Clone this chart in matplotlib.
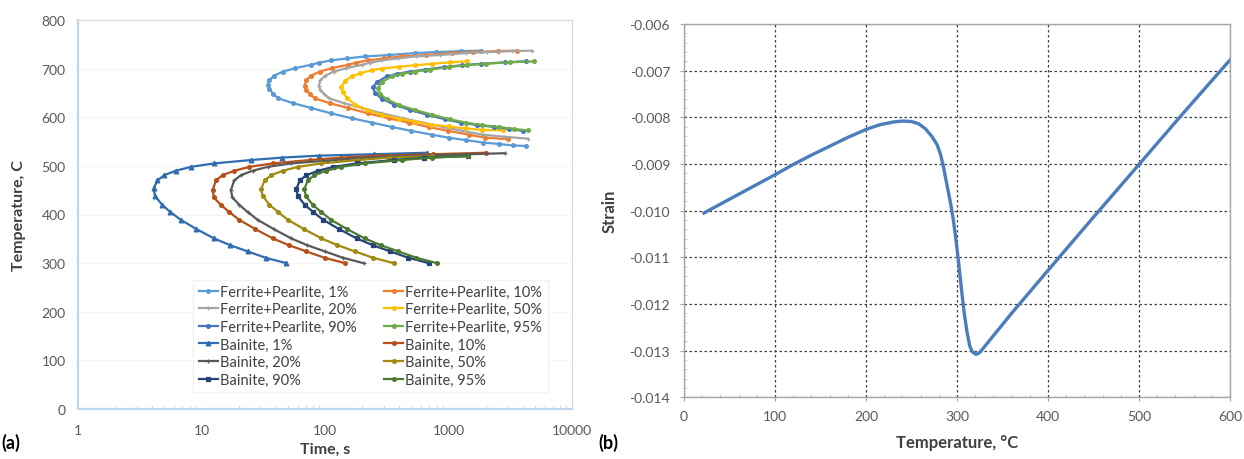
import matplotlib
matplotlib.use("Agg")
import matplotlib.pyplot as plt
from matplotlib.ticker import FixedLocator, MultipleLocator, FuncFormatter, NullFormatter

plt.rcParams['font.family'] = ['Lato', 'DejaVu Sans']

# ---------------- Panel (a): TTT diagram ----------------
fp1_T = [737, 736, 734, 732, 728, 725, 721, 717, 712, 708, 701, 694, 685, 676, 667, 658, 648, 639, 629, 619, 608, 598, 589, 580, 572, 564, 558, 553, 548, 545, 542, 541]
fp1_t = [1820, 1260, 794, 537, 331, 209, 151, 112, 89, 77.6, 57.5, 45.7, 38.5, 35.5, 34.4, 35.5, 38, 41.7, 55, 77.6, 112, 164, 240, 347, 501, 741, 1000, 1380, 1905, 2570, 3310, 4250]

fp10_T = [737, 736, 734, 732, 728, 725, 721, 717, 712, 708, 701, 694, 685, 676, 665, 656, 648, 639, 629, 619, 608, 598, 589, 580, 572, 564, 558, 555]
fp10_t = [3614, 2500, 1578, 1067, 658, 415, 301, 223, 177, 154, 114, 90.8, 76.4, 70.5, 68.4, 70.5, 75.5, 82.8, 109, 154, 223, 327, 476, 689, 995, 1472, 1986, 3006]

fp20_T = [737, 736, 734, 732, 728, 725, 721, 717, 712, 708, 701, 694, 685, 676, 665, 656, 648, 639, 629, 619, 608, 598, 589, 580, 572, 564, 560, 556]
fp20_t = [4710, 3258, 2056, 1390, 857, 541, 392, 290, 231, 201, 149, 118, 99.5, 91.8, 89.1, 91.8, 98.4, 108, 142, 201, 290, 426, 621, 897, 1297, 1919, 2818, 4365]

fp50_T = [715, 713, 710, 707, 704, 700, 697, 690, 684, 675, 663, 652, 640, 626, 615, 605, 597, 591, 585, 581, 577, 574, 573]
fp50_t = [1422, 1023, 741, 537, 394, 288, 240, 191, 164, 145, 136, 140, 150, 175, 219, 288, 398, 537, 724, 1000, 1380, 1884, 2742]

fp90_T = [715, 713, 710, 707, 703, 698, 694, 689, 684, 672, 662, 650, 638, 626, 615, 605, 596, 589, 584, 580, 576, 572]
fp90_t = [4246, 2884, 1820, 1288, 912, 646, 490, 380, 316, 263, 245, 254, 288, 363, 490, 676, 933, 1259, 1698, 2344, 3090, 3981]

fp95_T = [715, 713, 710, 707, 703, 698, 694, 689, 684, 672, 660, 648, 637, 625, 615, 605, 596, 589, 584, 580, 576, 573]
fp95_t = [4966, 3162, 1995, 1413, 1000, 708, 537, 417, 347, 288, 269, 279, 316, 398, 537, 741, 1023, 1380, 1862, 2570, 3388, 4365]

b1_T = [527, 524, 521, 517, 512, 505, 498, 490, 481, 470, 454, 438, 420, 405, 389, 370, 351, 337, 324, 311, 300]
b1_t = [676, 251, 89, 44.7, 25.1, 12.6, 8.2, 6.2, 5.0, 4.4, 4.1, 4.2, 4.8, 5.6, 6.8, 9.1, 12.6, 17.0, 23.7, 33.1, 48.5]

b10_T = [527, 524, 521, 517, 512, 505, 498, 490, 481, 470, 450, 435, 420, 405, 389, 370, 351, 337, 324, 311, 300]
b10_t = [2023, 752, 267, 134, 75.2, 37.7, 24.4, 18.5, 14.8, 13.1, 12.3, 12.6, 14.3, 16.8, 20.2, 27.3, 37.7, 50.8, 70.8, 99.1, 145]

b20_T = [526, 523, 520, 516, 511, 505, 498, 490, 481, 470, 450, 435, 420, 405, 389, 370, 351, 337, 324, 311, 300]
b20_t = [2851, 1059, 376, 188, 106, 53.1, 34.4, 26.0, 20.9, 18.4, 17.3, 17.8, 20.2, 23.7, 28.5, 38.5, 53.1, 71.6, 99.8, 140, 205]

b50_T = [520, 517, 512, 505, 498, 490, 481, 470, 452, 438, 420, 405, 389, 370, 351, 337, 324, 311, 300]
b50_t = [741, 331, 186, 93.3, 60.5, 45.7, 36.7, 32.4, 30.4, 31.3, 35.5, 41.7, 50.1, 67.6, 93.3, 126, 175, 245, 360]

b90_T = [520, 517, 512, 505, 498, 490, 481, 470, 452, 438, 420, 405, 389, 370, 351, 337, 324, 311, 300]
b90_t = [1445, 638, 359, 180, 117, 88.1, 70.8, 62.4, 58.6, 60.3, 68.4, 80.4, 96.6, 130, 180, 243, 338, 473, 693]

b95_T = [520, 517, 512, 505, 498, 490, 481, 470, 452, 438, 420, 405, 389, 370, 351, 337, 324, 311, 300]
b95_t = [1445, 741, 417, 209, 136, 102, 82.2, 72.4, 68.1, 70.0, 79.4, 93.3, 112, 151, 209, 282, 393, 550, 805]

series_labels = ["Ferrite+Pearlite, 1%", "Ferrite+Pearlite, 10%", "Ferrite+Pearlite, 20%",
                 "Ferrite+Pearlite, 50%", "Ferrite+Pearlite, 90%", "Ferrite+Pearlite, 95%",
                 "Bainite, 1%", "Bainite, 10%", "Bainite, 20%", "Bainite, 50%", "Bainite, 90%", "Bainite, 95%"]
series_data = [(fp1_t, fp1_T), (fp10_t, fp10_T), (fp20_t, fp20_T), (fp50_t, fp50_T), (fp90_t, fp90_T), (fp95_t, fp95_T),
               (b1_t, b1_T), (b10_t, b10_T), (b20_t, b20_T), (b50_t, b50_T), (b90_t, b90_T), (b95_t, b95_T)]
series_colors = ["#5B9BD5", "#ED7D31", "#A5A5A5", "#FFC000", "#4472C4", "#70AD47",
                 "#2F6CB0", "#B5501A", "#595959", "#A08A10", "#264478", "#4B7A30"]
series_markers = ["o", "o", "+", "o", "o", "o", "^", "o", "+", "o", "s", "o"]

# ---------------- Panel (b): dilatometry strain ----------------
temp_b = [22, 40, 60, 80, 100, 121, 140, 160, 180, 200, 215, 230, 240, 250, 258, 265, 272, 278, 282, 285, 289,
          293, 296, 299, 302, 305, 308, 311, 314, 317, 321, 325, 330, 360, 400, 450, 500, 550, 600]
strain_b = [-0.01005, -0.00986, -0.00965, -0.00944, -0.00923, -0.00900, -0.00881, -0.00862, -0.00843, -0.00826,
            -0.00816, -0.00810, -0.00808, -0.00809, -0.00814, -0.00824, -0.00840, -0.00858, -0.00880, -0.00905,
            -0.00945, -0.00985, -0.01020, -0.01065, -0.01115, -0.01170, -0.01220, -0.01260, -0.01290, -0.01303,
            -0.01308, -0.01304, -0.01292, -0.01220, -0.01128, -0.01014, -0.00901, -0.00788, -0.00677]

fig = plt.figure(figsize=(12.44, 4.6), dpi=100)

# ---- left axes ----
axa = fig.add_axes([78/1244, 1-410/460, (572-78)/1244, (410-21)/460])
handles = []
for (tt, TT), lab, col, mk in zip(series_data, series_labels, series_colors, series_markers):
    ms = 3.4 if mk in ("+", "^") else 2.7
    h, = axa.plot(tt, TT, color=col, lw=1.6, marker=mk, ms=ms, mew=0.9, label=lab)
    handles.append(h)
axa.set_xscale("log")
axa.set_xlim(1, 10000)
axa.set_ylim(0, 800)
axa.xaxis.set_major_locator(FixedLocator([1, 10, 100, 1000, 10000]))
axa.xaxis.set_major_formatter(FuncFormatter(lambda v, p: f"{int(round(v))}"))
axa.xaxis.set_minor_formatter(NullFormatter())
axa.yaxis.set_major_locator(MultipleLocator(100))
axa.tick_params(axis="both", which="major", length=0, labelsize=10, labelcolor="#595959")
axa.tick_params(axis="x", which="major", pad=11)
axa.tick_params(axis="y", which="major", pad=9)
axa.tick_params(axis="x", which="minor", length=3, direction="in", color="#BDD7EE")
axa.grid(axis="y", color="#F4F4F4", lw=0.6)
axa.set_axisbelow(True)
for s in ("left", "bottom"):
    axa.spines[s].set_color("#BDD7EE")
    axa.spines[s].set_linewidth(1.6)
for s in ("top", "right"):
    axa.spines[s].set_color("#D9D9D9")
    axa.spines[s].set_linewidth(0.8)
axa.set_xlabel("Time, s", fontsize=11.5, fontweight="bold", color="#404040")
axa.set_ylabel("Temperature, C", fontsize=11.5, fontweight="bold", color="#404040")
axa.xaxis.set_label_coords(0.5, -0.085)
axa.yaxis.set_label_coords(-0.105, 0.5)
# legend filled row by row (two columns)
order = [0, 2, 4, 6, 8, 10, 1, 3, 5, 7, 9, 11]
leg = axa.legend([handles[i] for i in order], [series_labels[i] for i in order],
                 ncol=2, loc="lower left", bbox_to_anchor=(0.219, 0.025), fontsize=10.5,
                 frameon=True, edgecolor="#EFEFEF", fancybox=False, handlelength=1.3,
                 handletextpad=0.15, columnspacing=1.9, labelspacing=0.25, borderpad=0.35)
for txt in leg.get_texts():
    txt.set_color("#404040")

# ---- right axes ----
axb = fig.add_axes([684/1244, 1-398.3/460, (1230-684)/1244, (398.3-25)/460])
axb.plot(temp_b, strain_b, color="#4A7EBB", lw=2.4)
axb.set_xlim(0, 600)
axb.set_ylim(-0.014, -0.006)
axb.xaxis.set_major_locator(MultipleLocator(100))
axb.xaxis.set_minor_locator(MultipleLocator(20))
axb.yaxis.set_major_locator(MultipleLocator(0.001))
axb.yaxis.set_minor_locator(MultipleLocator(0.0002))
axb.yaxis.set_major_formatter(FuncFormatter(lambda v, p: f"{v:.3f}"))
axb.tick_params(axis="both", which="major", length=3, direction="out", color="#A6A6A6",
                labelsize=10, labelcolor="#595959")
axb.tick_params(axis="x", which="major", pad=6)
axb.tick_params(axis="y", which="major", pad=7)
axb.tick_params(axis="both", which="minor", length=2.5, direction="in", color="#BFBFBF")
axb.grid(which="major", color="#404040", lw=0.9, linestyle=(0, (2, 2)))
axb.set_axisbelow(True)
for s in axb.spines.values():
    s.set_color("#A6A6A6")
    s.set_linewidth(1.0)
axb.set_xlabel("Temperature, °C", fontsize=12, fontweight="bold", color="#404040")
axb.set_ylabel("Strain", fontsize=12, fontweight="bold", color="#404040")
axb.xaxis.set_label_coords(0.5, -0.098)
axb.yaxis.set_label_coords(-0.121, 0.5)

fig.text(0.001, 1-443/460, "(a)", fontsize=13, fontweight="bold", va="center", ha="left")
fig.text(598/1244, 1-443/460, "(b)", fontsize=13, fontweight="bold", va="center", ha="left")

fig.savefig("out.png", dpi=100, facecolor="white")
